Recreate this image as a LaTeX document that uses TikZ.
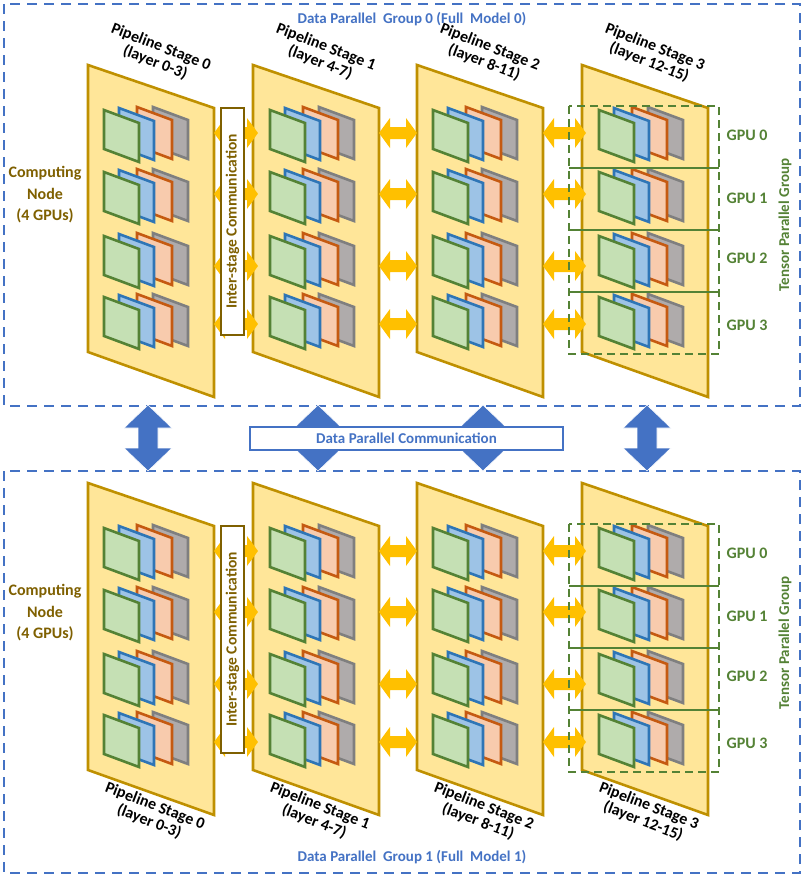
\documentclass[tikz,border=0pt]{standalone}
\usepackage{fontspec}
\setmainfont{Carlito}
\definecolor{stfill}{HTML}{FFE699}
\definecolor{stdraw}{HTML}{BF9000}
\definecolor{gD}{HTML}{548235}\definecolor{gF}{HTML}{C5E0B4}
\definecolor{bD}{HTML}{2E75B6}\definecolor{bF}{HTML}{9DC3E6}
\definecolor{oD}{HTML}{C55A11}\definecolor{oF}{HTML}{F8CBAD}
\definecolor{aD}{HTML}{7F7F7F}\definecolor{aF}{HTML}{AFABAB}
\definecolor{dpblue}{HTML}{4472C4}
\definecolor{yarr}{HTML}{FFC000}
\definecolor{brn}{HTML}{7F6000}
\tikzset{
 card/.style={line width=2.6pt,line join=miter},
 stagebox/.style={fill=stfill,draw=stdraw,line width=2.6pt},
 dpbox/.style={draw=dpblue,line width=2.6pt,dash pattern=on 10pt off 7pt},
 tpbox/.style={draw=gD,line width=2.4pt,dash pattern=on 8pt off 5pt},
 lbl/.style={font=\bfseries\fontsize{16}{16.5}\selectfont,align=center,inner sep=0pt},
}
\newcommand\onecard[4]{\filldraw[card,draw=#3,fill=#4] (#1,#2) -- ++(35,13) -- ++(0,39) -- ++(-35,-13) -- cycle;}
\newcommand\gstack[2]{%
 \onecard{#1+49}{#2-3}{aD}{aF}\onecard{#1+33}{#2-3}{oD}{oF}%
 \onecard{#1+15}{#2-2}{bD}{bF}\onecard{#1}{#2}{gD}{gF}}
\newcommand\hdarrow[3]{\fill[yarr] (#1,#3) -- (#1+11,#3-15) -- (#1+11,#3-6) -- (#2-11,#3-6) -- (#2-11,#3-15) -- (#2,#3) -- (#2-11,#3+15) -- (#2-11,#3+6) -- (#1+11,#3+6) -- (#1+11,#3+15) -- cycle;}
\newcommand\vdarrow[1]{\filldraw[fill=dpblue,draw=white,line width=0.6pt] (#1,405) -- (#1+24,428) -- (#1+10,428) -- (#1+10,448) -- (#1+24,448) -- (#1-0,471) -- (#1-24,448) -- (#1-10,448) -- (#1-10,428) -- (#1-24,428) -- cycle;}
\newcommand\panel[2]{% #1 = y shift, #2 = 1 top labels / 0 bottom labels
\begin{scope}[yshift=-#1pt]
 \foreach \x/\s/\l in {88/0/0-3,253/1/4-7,417/2/8-11,582/3/12-15}{
   \filldraw[stagebox] (\x,65) -- (\x+126,108) -- (\x+126,397) -- (\x,352) -- cycle;
   \ifnum#2=1
    \node[lbl,rotate=-21] (sl\s) at (\x+70,55) {Pipeline Stage \s\\(layer \l)};
   \else
    \node[lbl,rotate=-21] (sl\s) at (\x+64,396) {Pipeline Stage \s\\(layer \l)};
   \fi
 }
 \foreach \y in {133,194,266,324}{\hdarrow{214}{258}{\y}\hdarrow{379}{417}{\y}\hdarrow{543}{586}{\y}}
 \foreach \x in {104,270,433,599}{\foreach \y in {110,172,236,297}{\gstack{\x}{\y}}}
 \node[draw=brn,fill=white,line width=2.4pt,minimum width=23pt,minimum height=227pt,inner sep=0pt] (isc) at (232.5,221.5) {};
 \node[rotate=90,text=brn,lbl,font=\bfseries\fontsize{15.5}{16}\selectfont] (isct) at (isc.center) {Inter-stage Communication};
 \draw[tpbox] (569,106) rectangle (719,354);
 \foreach \y in {168,230,292}{\draw[gD,line width=2.2pt] (569,\y) -- (719,\y);}
 \foreach \g/\y in {0/135,1/198,2/258,3/325}{\node[lbl,text=gD] (gpu\g) at (747,\y) {GPU \g};}
 \node[lbl,text=gD,rotate=90,font=\bfseries\fontsize{15}{15}\selectfont] (tpg) at (785,225) {Tensor Parallel Group};
 \node[lbl,text=brn,font=\bfseries\fontsize{16}{21.5}\selectfont] (cn) at (45,195) {Computing\\Node\\(4 GPUs)};
\end{scope}}
\begin{document}
\begin{tikzpicture}[x=1pt,y=-1pt]
\useasboundingbox (0,0) rectangle (805,879);
\fill[white] (0,0) rectangle (805,879);
\draw[dpbox] (4,4) rectangle (800,406);
\draw[dpbox] (4,471) rectangle (800,873);
\panel{0}{1}
\panel{418}{0}
\node[lbl,text=dpblue,font=\bfseries\fontsize{15}{15}\selectfont] (dp0) at (412,19) {Data Parallel\ \ Group 0 (Full\ \ Model 0)};
\node[lbl,text=dpblue,font=\bfseries\fontsize{15}{15}\selectfont] (dp1) at (412,857) {Data Parallel\ \ Group 1 (Full\ \ Model 1)};
\vdarrow{148}\vdarrow{318}\vdarrow{483}\vdarrow{647}
\node[draw=dpblue,fill=white,line width=2.4pt,minimum width=313pt,minimum height=23pt,inner sep=0pt,text=dpblue,font=\bfseries\fontsize{15}{15}\selectfont] (dpc) at (406.5,438.5) {Data Parallel\ Communication};
\end{tikzpicture}
\end{document}
